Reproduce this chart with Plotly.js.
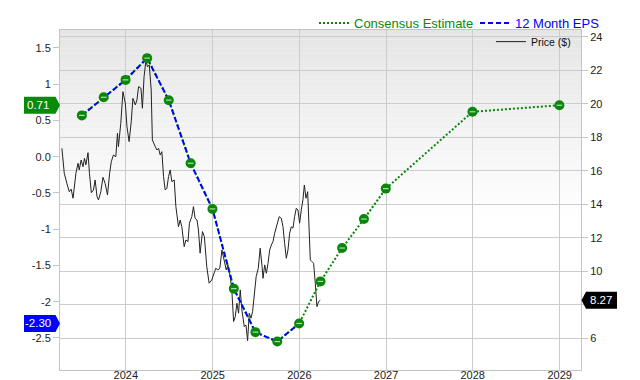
<!DOCTYPE html>
<html>
<head>
<meta charset="utf-8">
<script src="https://cdn.plot.ly/plotly-3.0.1.min.js"></script>
<style>html,body{margin:0;padding:0;background:#fff;}#chart{width:640px;height:380px;}</style>
</head>
<body>
<div id="chart"></div>
<script>
// ---- data ----
const consensusDates = ['2023-06-30','2023-09-30','2023-12-31','2024-03-31','2024-06-30','2024-09-30','2024-12-31','2025-03-31','2025-06-30','2025-09-30','2025-12-31','2026-03-31','2026-06-30','2026-09-30','2026-12-31','2027-12-31','2028-12-31'];
const consensusValues = [0.57,0.82,1.06,1.36,0.78,-0.09,-0.72,-1.82,-2.42,-2.55,-2.30,-1.72,-1.26,-0.86,-0.44,0.62,0.71];
const epsDates = ['2023-06-30','2023-09-30','2023-12-31','2024-03-31','2024-06-30','2024-09-30','2024-12-31','2025-03-31','2025-06-30','2025-09-30','2025-12-31'];
const epsValues = [0.57,0.82,1.06,1.36,0.78,-0.09,-0.72,-1.82,-2.42,-2.55,-2.30];
const priceDates = ['2023-04-07','2023-04-17','2023-04-28','2023-05-08','2023-05-16','2023-05-24','2023-06-05','2023-06-14','2023-06-19','2023-06-27','2023-07-05','2023-07-11','2023-07-17','2023-07-26','2023-08-01','2023-08-09','2023-08-18','2023-08-25','2023-09-02','2023-09-08','2023-09-18','2023-09-27','2023-10-06','2023-10-16','2023-10-25','2023-11-01','2023-11-10','2023-11-20','2023-11-27','2023-12-01','2023-12-11','2023-12-20','2023-12-30','2024-01-06','2024-01-15','2024-01-24','2024-01-31','2024-02-10','2024-02-17','2024-02-24','2024-03-05','2024-03-11','2024-03-18','2024-03-26','2024-04-01','2024-04-09','2024-04-17','2024-04-22','2024-05-04','2024-05-11','2024-05-18','2024-05-25','2024-06-01','2024-06-08','2024-06-15','2024-06-22','2024-06-29','2024-07-06','2024-07-13','2024-07-23','2024-07-30','2024-08-10','2024-08-17','2024-08-24','2024-09-03','2024-09-10','2024-09-19','2024-09-25','2024-10-05','2024-10-12','2024-10-19','2024-10-27','2024-11-02','2024-11-09','2024-11-19','2024-11-27','2024-12-07','2024-12-17','2024-12-28','2025-01-07','2025-01-14','2025-01-23','2025-01-31','2025-02-09','2025-02-20','2025-02-27','2025-03-06','2025-03-16','2025-03-23','2025-03-30','2025-04-06','2025-04-13','2025-04-20','2025-04-27','2025-05-04','2025-05-14','2025-05-21','2025-05-28','2025-06-04','2025-06-11','2025-06-18','2025-06-25','2025-07-03','2025-07-12','2025-07-20','2025-07-28','2025-08-01','2025-08-08','2025-08-15','2025-08-22','2025-08-29','2025-09-05','2025-09-12','2025-09-19','2025-09-29','2025-10-08','2025-10-17','2025-10-24','2025-10-31','2025-11-07','2025-11-14','2025-11-21','2025-11-28','2025-12-05','2025-12-12','2025-12-19','2025-12-26','2026-01-02','2026-01-09','2026-01-16','2026-01-22','2026-01-29','2026-02-05','2026-02-12','2026-02-16','2026-02-23','2026-03-02','2026-03-09','2026-03-16','2026-03-23','2026-03-30'];
const priceValues = [17.34,15.85,15.25,14.75,14.90,14.36,15.85,16.45,16.05,16.64,16.24,16.74,16.35,17.08,15.85,14.69,14.85,15.45,14.45,14.26,14.75,15.61,15.25,14.56,15.85,16.54,16.94,16.84,18.24,17.44,18.83,20.72,20.03,18.63,17.74,18.93,20.32,19.93,20.22,21.02,20.92,19.73,21.61,22.61,22.21,22.31,20.82,17.84,17.44,17.24,17.34,16.94,17.14,15.65,14.85,14.95,15.65,16.05,15.35,15.45,13.86,12.66,13.06,12.66,11.47,11.87,11.77,12.87,13.26,13.86,13.16,13.06,12.47,11.08,12.37,12.07,10.28,9.29,9.48,9.98,10.18,10.08,10.18,11.27,10.48,10.08,10.38,9.68,8.77,7.00,7.29,8.09,7.50,8.89,7.69,6.70,6.80,5.86,7.50,7.20,7.59,8.49,9.68,10.18,11.38,10.28,9.58,10.38,9.88,10.48,11.27,11.57,11.77,12.27,12.87,13.26,13.16,12.66,11.67,10.78,11.27,12.27,12.66,12.57,13.26,13.76,13.66,12.87,13.66,14.26,15.15,14.36,14.75,12.66,10.68,10.58,10.48,9.29,7.89,8.19,8.27];
const yearTicks = ['2024-01-01','2025-01-01','2026-01-01','2027-01-01','2028-01-01','2029-01-01'];
const yearLabels = ['2024','2025','2026','2027','2028','2029'];
const epsTickVals = [-2.5,-2,-1.5,-1,-0.5,0,0.5,1,1.5];
const epsTickText = ['-2.5','-2','-1.5','-1','-0.5','0.0','0.5','1','1.5'];
const priceTickVals = [6,8,10,12,14,16,18,20,22,24];
const priceTickText = ['6','','10','12','14','16','18','20','22','24'];

// ---- styling ----
const FONT = 'Liberation Sans, Arial, Helvetica, sans-serif';
const GREEN = '#0a870a';
const BLUE = '#0000ff';

const traces = [
  {x: priceDates, y: priceValues, type: 'scatter', mode: 'lines', name: 'Price ($)',
   line: {color: '#222222', width: 1}, yaxis: 'y', legend: 'legend2', hoverinfo: 'skip'},
  {x: consensusDates, y: consensusValues, type: 'scatter', mode: 'lines',
   name: '<span style="color:' + GREEN + '">Consensus Estimate</span>',
   line: {color: GREEN, width: 2, dash: '2px,2px'}, yaxis: 'y2', legend: 'legend'},
  {x: epsDates, y: epsValues, type: 'scatter', mode: 'lines',
   name: '<span style="color:' + BLUE + '">12 Month EPS</span>',
   line: {color: BLUE, width: 2, dash: '5px,3px'}, yaxis: 'y2', legend: 'legend'},
  {x: consensusDates, y: consensusValues, type: 'scatter', mode: 'markers', showlegend: false,
   marker: {color: GREEN, size: 10, symbol: 'circle'}, yaxis: 'y2'},
  {x: consensusDates, y: consensusValues, type: 'scatter', mode: 'markers', showlegend: false,
   marker: {color: 'rgba(255,255,255,0.6)', size: 4, symbol: 'line-ew', line: {color: 'rgba(220,240,220,0.8)', width: 1.2}}, yaxis: 'y2'}
];

// background gradient bands
const shapes = [];
const N = 40;
for (let i = 0; i < N; i++) {
  const g = Math.round(229 + (255 - 229) * (i / N));
  shapes.push({type: 'rect', xref: 'paper', yref: 'paper', x0: 0, x1: 1,
    y0: 1 - i * 0.55 / N, y1: 1 - (i + 1) * 0.55 / N,
    fillcolor: 'rgb(' + g + ',' + g + ',' + g + ')', line: {width: 0}, layer: 'below'});
}

const lastEst = consensusValues[consensusValues.length - 1];
const lastEps = epsValues[epsValues.length - 1];
const lastPrice = priceValues[priceValues.length - 1];

function leftTag(val, color) {
  return {type: 'path', xref: 'paper', yref: 'y2', xsizemode: 'pixel', ysizemode: 'pixel',
    xanchor: 0, yanchor: val, path: 'M-36,-8.5 L-4.5,-8.5 L0,0 L-4.5,8.5 L-36,8.5 Z',
    fillcolor: color, line: {width: 0}, layer: 'above'};
}
shapes.push(leftTag(lastEst, '#0a8a0a'));
shapes.push(leftTag(lastEps, BLUE));
shapes.push({type: 'path', xref: 'paper', yref: 'y', xsizemode: 'pixel', ysizemode: 'pixel',
  xanchor: 1, yanchor: lastPrice, path: 'M0.5,0 L5,-8.5 L36,-8.5 L36,8.5 L5,8.5 Z',
  fillcolor: '#000000', line: {width: 0}, layer: 'above'});

const annotations = [
  {xref: 'paper', yref: 'y2', x: 0, y: lastEst, xanchor: 'center', xshift: -22, showarrow: false,
   text: lastEst.toFixed(2), font: {family: FONT, size: 11.5, color: '#ffffff'}},
  {xref: 'paper', yref: 'y2', x: 0, y: lastEps, xanchor: 'center', xshift: -22, showarrow: false,
   text: lastEps.toFixed(2), font: {family: FONT, size: 11.5, color: '#ffffff'}},
  {xref: 'paper', yref: 'y', x: 1, y: lastPrice, xanchor: 'center', xshift: 20, showarrow: false,
   text: lastPrice.toFixed(2), font: {family: FONT, size: 11.5, color: '#ffffff'}}
];

const layout = {
  width: 640, height: 380,
  margin: {l: 60, r: 59, t: 30, b: 10, autoexpand: false},
  paper_bgcolor: '#ffffff', plot_bgcolor: '#ffffff',
  font: {family: FONT, size: 11, color: '#222222'},
  xaxis: {type: 'date', range: ['2023-03-30', '2029-04-01'], tickvals: yearTicks, ticktext: yearLabels,
    showgrid: true, gridcolor: '#cccccc', gridwidth: 1, showline: true, linecolor: '#c4c4c4', mirror: true,
    ticks: '', ticklabelstandoff: -5, zeroline: false, automargin: false,
    tickfont: {family: FONT, size: 11, color: '#222222'}, fixedrange: true},
  yaxis: {side: 'right', range: [4.11, 24.4], tickvals: priceTickVals, ticktext: priceTickText,
    showgrid: true, gridcolor: '#cccccc', gridwidth: 1, showline: true, linecolor: '#c4c4c4',
    ticks: 'outside', ticklen: 6, tickcolor: '#c4c4c4', zeroline: false, automargin: false,
    tickfont: {family: FONT, size: 11, color: '#222222'}},
  yaxis2: {overlaying: 'y', side: 'left', range: [-2.942, 1.748], tickvals: epsTickVals, ticktext: epsTickText,
    showgrid: false, showline: true, linecolor: '#c4c4c4', ticks: 'outside', ticklen: 6, tickcolor: '#c4c4c4',
    zeroline: false, automargin: false, tickfont: {family: FONT, size: 11, color: '#222222'}},
  showlegend: true,
  legend: {orientation: 'h', x: 0.4875, xanchor: 'left', y: 1.0206, yanchor: 'middle', bgcolor: 'rgba(0,0,0,0)',
    font: {family: FONT, size: 13}, itemwidth: 30, entrywidth: 116, traceorder: 'normal'},
  legend2: {x: 0.9904, xanchor: 'right', y: 1.0085, yanchor: 'top', bgcolor: 'rgba(0,0,0,0)',
    font: {family: FONT, size: 10.5, color: '#111111'}},
  shapes: shapes,
  annotations: annotations
};

Plotly.newPlot('chart', traces, layout, {staticPlot: true, displayModeBar: false});
</script>
</body>
</html>
